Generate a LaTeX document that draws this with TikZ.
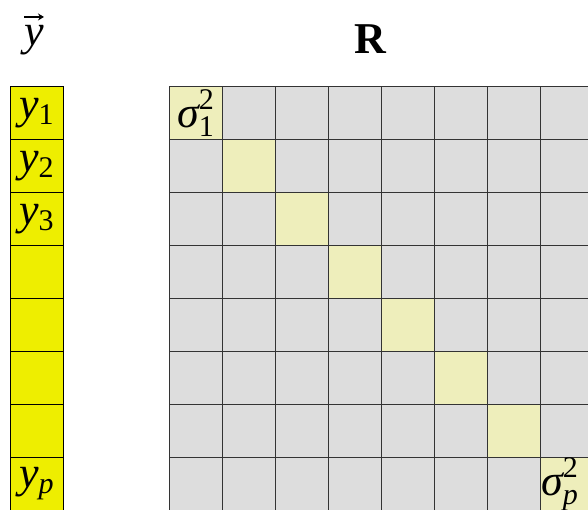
\documentclass[tikz,border=0pt]{standalone}
\usepackage{fontspec}
\usetikzlibrary{arrows.meta}
\setmainfont{Liberation Serif}
\newfontfamily\tnr{Liberation Serif}
\definecolor{vecyellow}{HTML}{EEEE00}
\definecolor{cellgray}{HTML}{DDDDDD}
\definecolor{diagyellow}{HTML}{EEEEBB}
\newcommand{\bigf}{\tnr\fontsize{44}{44}\selectfont}
\newcommand{\scrf}{\tnr\fontsize{30}{30}\selectfont}
\newcommand{\yentry}[1]{\bigf\itshape y\upshape\raisebox{-0.14em}{\scrf #1}}
\newcommand{\sigentry}[1]{\bigf\itshape σ\upshape\rlap{\raisebox{0.42em}{\scrf 2}}\raisebox{-0.2em}{\scrf #1}}
\begin{document}
\begin{tikzpicture}[x=1pt,y=-1pt,
  vcell/.style={draw=black, line width=0.9pt, fill=vecyellow, minimum width=53pt, minimum height=53pt, inner sep=0pt, anchor=north west},
  gcell/.style={draw=black!80, line width=0.8pt, fill=cellgray, minimum width=53pt, minimum height=53pt, inner sep=0pt, anchor=north west},
  dcell/.style={gcell, fill=diagyellow},
  title/.style={inner sep=0pt, font=\bigf}]
\clip (0,0) rectangle (588,509);
\fill[white] (0,0) rectangle (588,509);
% vector y
\foreach \j in {0,...,7} {
  \node[vcell] (v-\j) at (9.5,{86+53*\j}) {};
}
\node at (v-0) {\yentry{1}};
\node at (v-1) {\yentry{2}};
\node at (v-2) {\yentry{3}};
\node at (v-7) {\yentry{\itshape p}};
% matrix R
\foreach \i in {0,...,7} {
  \foreach \j in {0,...,7} {
    \ifnum\i=\j
      \node[dcell] (c-\i-\j) at ({168.5+53*\i},{86+53*\j}) {};
    \else
      \node[gcell] (c-\i-\j) at ({168.5+53*\i},{86+53*\j}) {};
    \fi
  }
}
\node at (c-0-0) {\sigentry{1}};
\node[xshift=-7pt] at (c-7-7) {\sigentry{\itshape p}};
% titles
\node[title] (yvec) at (34,40) {\itshape y};
\draw[line width=1.6pt, -{Stealth[length=6pt,width=7pt]}] ([xshift=-10pt,yshift=8pt]yvec.north) -- ([xshift=10pt,yshift=8pt]yvec.north);
\node[title] (rtitle) at (370,39) {\bfseries R};
\end{tikzpicture}
\end{document}
